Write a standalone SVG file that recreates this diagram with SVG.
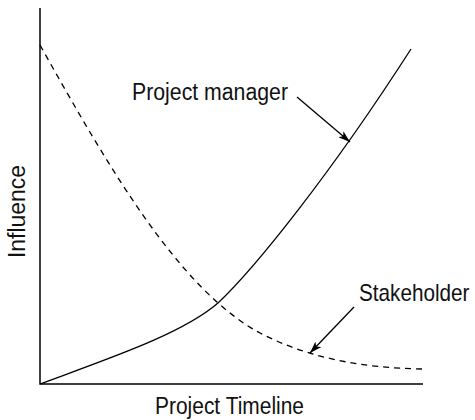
<svg xmlns="http://www.w3.org/2000/svg" width="475" height="420" viewBox="0 0 475 420">
<style>
.txt{font-family:"Liberation Sans",Arial,sans-serif;font-size:23px;fill:#111}
.ax{stroke:#000;stroke-width:1.5;fill:none}
.crv{stroke:#000;stroke-width:1.3;fill:none}
.dash{stroke-dasharray:6 5}
.arr{stroke:#000;stroke-width:1.3;fill:none;marker-end:url(#ah)}
</style>
<defs>
<marker id="ah" viewBox="0 0 12 8" refX="12" refY="4" markerWidth="12" markerHeight="8" markerUnits="userSpaceOnUse" orient="auto">
<path d="M0,0 L12,4 L0,8 L3,4 Z" fill="#000"/>
</marker>
</defs>
<g id="axes">
<path class="ax" d="M40,8 L40,384 L423,384"/>
<text class="txt" x="155" y="414" textLength="149" lengthAdjust="spacingAndGlyphs">Project Timeline</text>
<text class="txt" transform="translate(25,258) rotate(-90)" x="0" y="0" textLength="93" lengthAdjust="spacingAndGlyphs">Influence</text>
</g>
<g id="project-manager">
<path class="crv" d="M40,384 C110,358 182,334 218,303 C255,268 330,175 411,49"/>
<text class="txt" x="132" y="100" textLength="156" lengthAdjust="spacingAndGlyphs">Project manager</text>
</g>
<g id="stakeholder">
<path class="crv dash" d="M40,45 C110,170 180,290 260,333 C306,357 360,368 422,369"/>
<text class="txt" transform="translate(359,301) scale(0.9,1)" x="0" y="0">Stakeholder</text>
</g>
<g id="connectors">
<path class="arr" d="M297,97 L350,142"/>
<path class="arr" d="M354,307 L310,353"/>
</g>
</svg>
